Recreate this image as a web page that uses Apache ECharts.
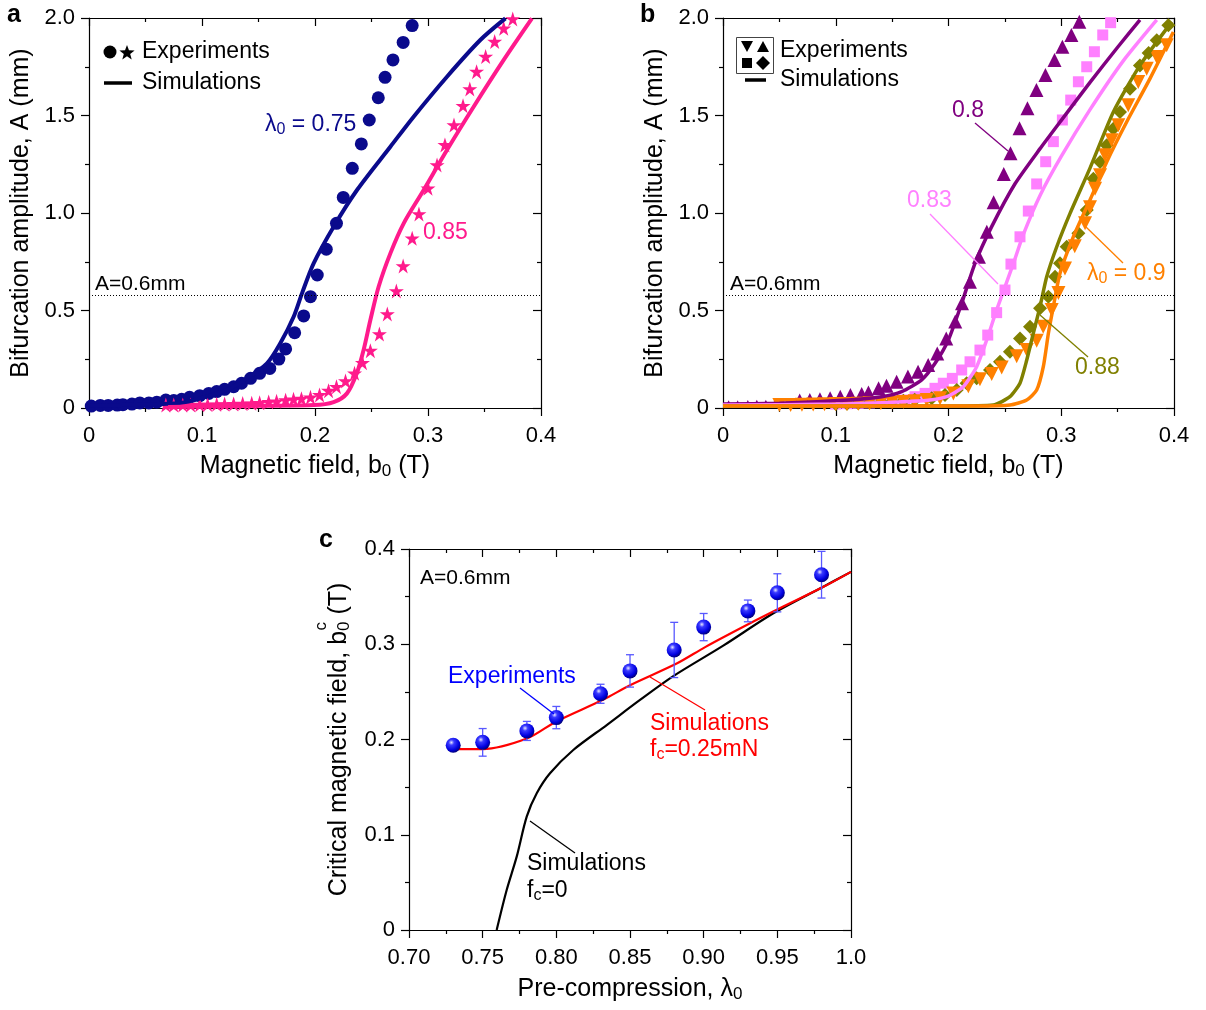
<!DOCTYPE html>
<html><head><meta charset="utf-8">
<script src="https://cdn.jsdelivr.net/npm/echarts@6/dist/echarts.min.js"></script>
<style>html,body{margin:0;padding:0;background:#fff}#c{width:1206px;height:1010px}</style>
</head><body><div id="c"></div>
<script>
// ---------- Panel a data: [b0 (T), A (mm)] ----------
const expA075 = [[0.002,0.010],[0.010,0.013],[0.017,0.013],[0.025,0.015],[0.030,0.017],[0.038,0.020],[0.045,0.026],[0.053,0.026],[0.060,0.030],[0.068,0.041],[0.075,0.038],[0.082,0.045],[0.089,0.055],[0.098,0.063],[0.106,0.075],[0.113,0.084],[0.120,0.096],[0.128,0.109],[0.135,0.127],[0.143,0.152],[0.151,0.178],[0.160,0.203],[0.168,0.251],[0.174,0.303],[0.182,0.386],[0.190,0.472],[0.196,0.571],[0.202,0.682],[0.210,0.814],[0.219,0.947],[0.225,1.080],[0.233,1.229],[0.241,1.354],[0.248,1.477],[0.256,1.591],[0.262,1.696],[0.269,1.785],[0.278,1.875],[0.286,1.961]];
const simA075 = [[0,0.010],[0.04,0.018],[0.08,0.026],[0.1212,0.092],[0.1395,0.152],[0.1575,0.229],[0.1693,0.332],[0.1811,0.468],[0.1885,0.588],[0.1988,0.742],[0.2165,0.930],[0.2372,1.118],[0.2667,1.340],[0.2873,1.494],[0.3168,1.699],[0.3463,1.887],[0.3685,1.998]];
const expA085 = [[0.068,0.015],[0.075,0.015],[0.083,0.016],[0.090,0.016],[0.098,0.017],[0.105,0.018],[0.113,0.019],[0.120,0.020],[0.128,0.021],[0.136,0.023],[0.144,0.024],[0.151,0.027],[0.159,0.031],[0.166,0.034],[0.174,0.040],[0.181,0.045],[0.188,0.048],[0.196,0.055],[0.204,0.067],[0.212,0.089],[0.219,0.109],[0.227,0.138],[0.235,0.178],[0.242,0.232],[0.249,0.294],[0.257,0.379],[0.264,0.482],[0.272,0.600],[0.278,0.728],[0.286,0.870],[0.292,0.995],[0.300,1.127],[0.308,1.246],[0.315,1.349],[0.323,1.451],[0.331,1.550],[0.337,1.636],[0.343,1.725],[0.351,1.802],[0.359,1.879],[0.367,1.947],[0.375,1.995]];
const simA085 = [[0.07,0.005],[0.12,0.010],[0.1988,0.015],[0.2165,0.030],[0.2283,0.075],[0.237,0.178],[0.243,0.297],[0.249,0.451],[0.2563,0.622],[0.2667,0.793],[0.2785,0.947],[0.2962,1.118],[0.3168,1.323],[0.3404,1.545],[0.367,1.785],[0.392,1.998]];
const thresholdA = [0.585];

// ---------- Panel b data ----------
const expB080 = [[0.005,0.022],[0.013,0.022],[0.022,0.023],[0.030,0.024],[0.038,0.025],[0.046,0.026],[0.053,0.028],[0.060,0.032],[0.068,0.038],[0.077,0.041],[0.086,0.045],[0.095,0.050],[0.104,0.058],[0.113,0.067],[0.123,0.072],[0.129,0.080],[0.138,0.101],[0.145,0.114],[0.154,0.135],[0.164,0.161],[0.173,0.186],[0.182,0.221],[0.190,0.280],[0.198,0.357],[0.206,0.443],[0.212,0.537],[0.219,0.648],[0.227,0.776],[0.234,0.904],[0.240,1.055],[0.249,1.200],[0.255,1.306],[0.263,1.434],[0.270,1.537],[0.278,1.631],[0.286,1.708],[0.294,1.785],[0.301,1.853],[0.309,1.913],[0.316,1.981]];
const simB080 = [[0,0.020],[0.05,0.025],[0.1112,0.041],[0.1408,0.058],[0.1585,0.084],[0.1762,0.144],[0.1881,0.229],[0.1999,0.349],[0.2117,0.537],[0.2235,0.742],[0.2383,0.930],[0.259,1.150],[0.2812,1.330],[0.300,1.475],[0.3255,1.670],[0.350,1.850],[0.3698,1.990]];
const expB083 = [[0.100,0.020],[0.110,0.022],[0.120,0.024],[0.130,0.026],[0.140,0.028],[0.150,0.032],[0.1614,0.041],[0.1703,0.058],[0.1792,0.075],[0.188,0.101],[0.1954,0.127],[0.2034,0.152],[0.2117,0.195],[0.2191,0.237],[0.2279,0.297],[0.2348,0.374],[0.2427,0.489],[0.2501,0.605],[0.2554,0.738],[0.2634,0.878],[0.2708,1.010],[0.2782,1.149],[0.2862,1.263],[0.293,1.366],[0.301,1.477],[0.3084,1.579],[0.3152,1.673],[0.3226,1.750],[0.3294,1.827],[0.3368,1.913],[0.3438,1.976]];
const simB083 = [[0,0.015],[0.10,0.020],[0.15,0.030],[0.182,0.040],[0.1984,0.058],[0.2131,0.109],[0.225,0.212],[0.2339,0.349],[0.2427,0.503],[0.2575,0.740],[0.2664,0.890],[0.2812,1.090],[0.300,1.290],[0.3255,1.530],[0.355,1.780],[0.3847,1.990]];
const expB088 = [[0.100,0.020],[0.110,0.022],[0.120,0.024],[0.130,0.027],[0.140,0.030],[0.150,0.033],[0.160,0.037],[0.170,0.042],[0.1851,0.050],[0.1969,0.067],[0.2073,0.092],[0.2161,0.127],[0.225,0.152],[0.2368,0.195],[0.2457,0.237],[0.2545,0.289],[0.2634,0.357],[0.2723,0.417],[0.2812,0.511],[0.2886,0.571],[0.2945,0.673],[0.2989,0.742],[0.3048,0.827],[0.3152,0.896],[0.3226,1.015],[0.3285,1.176],[0.3344,1.262],[0.3403,1.347],[0.3462,1.432],[0.3521,1.518],[0.361,1.637],[0.3698,1.757],[0.3775,1.820],[0.3847,1.886],[0.395,1.963]];
const simB088 = [[0,0.010],[0.20,0.010],[0.2397,0.015],[0.2545,0.058],[0.2634,0.127],[0.2694,0.246],[0.2752,0.383],[0.2812,0.520],[0.2871,0.673],[0.296,0.827],[0.3078,0.998],[0.3255,1.230],[0.3462,1.518],[0.3698,1.757],[0.398,1.980]];
const expB090 = [[0.050,0.015],[0.060,0.016],[0.070,0.017],[0.080,0.018],[0.090,0.019],[0.100,0.020],[0.110,0.021],[0.120,0.022],[0.130,0.024],[0.140,0.026],[0.150,0.028],[0.160,0.031],[0.170,0.035],[0.1807,0.041],[0.1925,0.050],[0.2043,0.075],[0.2176,0.112],[0.2279,0.148],[0.2383,0.175],[0.2472,0.208],[0.2605,0.265],[0.2694,0.297],[0.2782,0.345],[0.284,0.417],[0.2915,0.503],[0.2975,0.590],[0.3033,0.716],[0.312,0.830],[0.3211,0.947],[0.3255,1.030],[0.330,1.125],[0.3344,1.193],[0.3388,1.296],[0.3447,1.373],[0.3506,1.450],[0.3594,1.552],[0.3683,1.672],[0.3758,1.740],[0.3847,1.800],[0.3935,1.860]];
const simB090 = [[0,0.010],[0.225,0.010],[0.2545,0.015],[0.2694,0.041],[0.2782,0.092],[0.2841,0.212],[0.2886,0.383],[0.293,0.520],[0.2989,0.691],[0.3107,0.878],[0.3255,1.067],[0.3403,1.262],[0.358,1.467],[0.3787,1.689],[0.3994,1.928]];

// ---------- Panel c data: [lambda0, b0c (T)] ----------
const lambdaExp = [0.73,0.75,0.78,0.80,0.83,0.85,0.88,0.90,0.93,0.95,0.98];
const bcExp     = [0.194,0.197,0.209,0.223,0.248,0.272,0.294,0.318,0.335,0.354,0.373];
const bcErr     = [0.0055,0.0145,0.010,0.0117,0.010,0.017,0.029,0.0143,0.0114,0.020,0.0245];
const simC025 = [[0.73,0.190],[0.75,0.190],[0.78,0.201],[0.80,0.219],[0.832,0.242],[0.85,0.257],[0.882,0.280],[0.901,0.297],[0.9315,0.322],[0.952,0.338],[0.981,0.360],[1.0,0.376]];
const simC0 = [[0.7595,0],[0.7663,0.042],[0.7731,0.077],[0.7799,0.119],[0.7867,0.1435],[0.7957,0.1645],[0.8115,0.189],[0.8342,0.2152],[0.8568,0.2415],[0.8794,0.2665],[0.9133,0.2985],[0.9473,0.3325],[0.9812,0.3604],[1.0,0.376]];

// ---------- styling ----------
const FONT = "'Liberation Sans', Arial, Helvetica, sans-serif";
const C = {navy:'#0a0a8c', pink:'#ff1a8c', purple:'#800080', mag:'#ff80ff', olive:'#808000', orange:'#ff8000'};
const STAR = 'path://M50,2 L61,36 L97,36 L68,57 L79,92 L50,70 L21,92 L32,57 L3,36 L39,36 Z';
const fmt1 = v => (Math.abs(v) < 1e-9 ? '0' : v.toFixed(1));
const fmtC = v => (Math.abs(v) < 1e-9 ? '0' : (v > 0.999 ? '1.0' : v.toFixed(2)));
const TITLE = 25, SUB = 17, TICK = 22, NOTE = 23;
const subRich = {sub:{fontSize:SUB, fontFamily:FONT, color:'#000', padding:[10,0,0,0]}, n:{fontSize:TITLE, fontFamily:FONT, color:'#000'}};

function starPts(cx, cy, R) {
  const pts = [], r = R * 0.42;
  for (let i = 0; i < 10; i++) {
    const a = -Math.PI/2 + i * Math.PI/5, rr = i % 2 ? r : R;
    pts.push([cx + rr*Math.cos(a), cy + rr*Math.sin(a)]);
  }
  return pts;
}
const base = (g, min, max, iv) => ({gridIndex:g, type:'value', min, max, interval:iv,
  axisLine:{show:true,onZero:false,lineStyle:{color:'#000',width:1.2}},
  minorTick:{show:true,splitNumber:2,length:4,lineStyle:{color:'#000',width:1.2}},
  splitLine:{show:false}, minorSplitLine:{show:false}});

function xAx(g, min, max, iv, fmt, name, gap) {
  return [Object.assign(base(g,min,max,iv), {position:'bottom',
    axisTick:{show:true,inside:false,length:8,lineStyle:{color:'#000',width:1.2}},
    axisLabel:{color:'#000',fontSize:TICK,fontFamily:FONT,margin:17,formatter:fmt},
    name, nameLocation:'middle', nameGap:gap,
    nameTextStyle:{color:'#000',fontSize:TITLE,fontFamily:FONT,rich:subRich}}),
  Object.assign(base(g,min,max,iv), {position:'top',
    axisTick:{show:true,inside:true,length:8,lineStyle:{color:'#000',width:1.2}},
    axisLabel:{show:false}})];
}
function yAx(g, min, max, iv, fmt, name, gap) {
  return [Object.assign(base(g,min,max,iv), {position:'left',
    axisTick:{show:true,inside:false,length:8,lineStyle:{color:'#000',width:1.2}},
    axisLabel:{color:'#000',fontSize:TICK,fontFamily:FONT,margin:14,formatter:fmt},
    name, nameLocation:'middle', nameGap:gap,
    nameTextStyle:{color:'#000',fontSize:TITLE,fontFamily:FONT,rich:subRich}}),
  Object.assign(base(g,min,max,iv), {position:'right',
    axisTick:{show:true,inside:true,length:8,lineStyle:{color:'#000',width:1.2}},
    axisLabel:{show:false}})];
}

function sim(g, data, color, w, extra) {
  return Object.assign({type:'line', xAxisIndex:2*g, yAxisIndex:2*g, data, smooth:0.3, showSymbol:false,
    symbol:'none', lineStyle:{color, width:w}, z:3, silent:true}, extra || {});
}
function exp(g, data, color, symbol, size, extra) {
  return Object.assign({type:'scatter', xAxisIndex:2*g, yAxisIndex:2*g, data, symbol, symbolSize:size,
    itemStyle:{color, opacity:1}, z:2, silent:true}, extra || {});
}
const dotted = {silent:true, symbol:'none', label:{show:false}, lineStyle:{type:[1,2], color:'#000', width:1},
  data:[{yAxis:thresholdA[0]}]};

const series = [
  exp(0, expA075, C.navy, 'circle', 13),
  exp(0, expA085, C.pink, STAR, 15),
  sim(0, simA075, C.navy, 4, {markLine:dotted}),
  sim(0, simA085, C.pink, 4),
  exp(1, expB080, C.purple, 'triangle', v => (v[0] < 0.062 ? 7 : 14)),
  exp(1, expB083, C.mag, 'rect', 11),
  exp(1, expB088, C.olive, 'diamond', 14),
  exp(1, expB090, C.orange, 'triangle', 14, {symbolRotate:180}),
  sim(1, simB080, C.purple, 3.5, {markLine:dotted, smooth:0.2}),
  sim(1, simB083, C.mag, 3.5, {smooth:0.2}),
  sim(1, simB088, C.olive, 3.5, {smooth:0.2}),
  sim(1, simB090, C.orange, 3.5, {smooth:0.2}),
  sim(2, simC0, '#000', 2.2, {smooth:0.3}),
  sim(2, simC025, '#ff0000', 2.2, {smooth:0.3}),
  {type:'custom', xAxisIndex:4, yAxisIndex:4, z:4, silent:true,
   data: lambdaExp.map((l,i) => [l, bcExp[i], bcErr[i]]),
   renderItem(params, api) {
     const x = api.value(0), y = api.value(1), e = api.value(2);
     const t = api.coord([x, y+e]), b = api.coord([x, y-e]);
     const hw = 4, st = {stroke:'#5858ff', lineWidth:1.3};
     return {type:'group', children:[
       {type:'line', shape:{x1:t[0],y1:t[1],x2:b[0],y2:b[1]}, style:st},
       {type:'line', shape:{x1:t[0]-hw,y1:t[1],x2:t[0]+hw,y2:t[1]}, style:st},
       {type:'line', shape:{x1:b[0]-hw,y1:b[1],x2:b[0]+hw,y2:b[1]}, style:st}
     ]};
   }},
  {type:'scatter', xAxisIndex:4, yAxisIndex:4, z:5, silent:true, symbol:'circle', symbolSize:15,
   data: lambdaExp.map((l,i) => [l, bcExp[i]]),
   itemStyle:{opacity:1, color:{type:'radial', x:0.38, y:0.32, r:0.72, colorStops:[
     {offset:0,color:'#e8e8ff'},{offset:0.25,color:'#3a3aff'},{offset:0.7,color:'#0000e0'},{offset:1,color:'#00006a'}]}}}
];

// ---------- annotations (pixel layout) ----------
function txt(x, y, text, color, size, extra) {
  return Object.assign({type:'text', x, y, silent:true, z:100, style:{text, fill:color, fontSize:size||NOTE,
    fontFamily:FONT, verticalAlign:'middle', align:'left',
    rich:{n:{fontSize:size||NOTE, fontFamily:FONT, fill:color}, sub:{fontSize:16, fontFamily:FONT, fill:color, padding:[10,0,0,0]}}}}, extra||{});
}
function ln(x1,y1,x2,y2,color,w) {
  return {type:'line', silent:true, z:100, shape:{x1,y1,x2,y2}, style:{stroke:color, lineWidth:w||1.3}};
}
function bold(x, y, t) {
  return {type:'text', x, y, silent:true, z:100, style:{text:t, fill:'#000', fontSize:25, fontWeight:'bold', fontFamily:FONT, verticalAlign:'middle'}};
}
// superscript "c" of the panel c y-axis title, placed above the subscript 0
const meas = document.createElement('canvas').getContext('2d');
function tw(s, size) { meas.font = size + 'px ' + FONT; return meas.measureText(s).width; }
const cNameGap = 56, cGridTop = 549, cGridH = 381, cGridLeft = 409;
const wMain = tw('Critical magnetic field, b', TITLE), w0 = tw('0', SUB), wT = tw(' (T)', TITLE);
const wAll = wMain + w0 + wT;
const topEnd = cGridTop + cGridH/2 - wAll/2;
const supY = topEnd + wT + w0/2;
const supX = cGridLeft - cNameGap - 32;

const graphic = [
  bold(7, 15, 'a'), bold(640, 15, 'b'), bold(319, 540, 'c'),
  // legend a
  {type:'circle', silent:true, z:100, shape:{cx:110, cy:52, r:6.5}, style:{fill:'#000'}},
  {type:'polygon', silent:true, z:100, shape:{points:starPts(127, 53, 8)}, style:{fill:'#000'}},
  txt(142, 52, 'Experiments', '#000'),
  ln(104, 83, 132, 83, '#000', 3.5),
  txt(142, 83, 'Simulations', '#000'),
  txt(265, 125, '{n|λ}{sub|0}{n| = 0.75}', C.navy),
  txt(423, 233, '0.85', C.pink),
  txt(95, 284, 'A=0.6mm', '#000', 21),
  // legend b
  {type:'rect', silent:true, z:100, shape:{x:736.5, y:37.5, width:37, height:36}, style:{fill:'none', stroke:'#444', lineWidth:1}},
  {type:'polygon', silent:true, z:100, shape:{points:[[741,41],[753,41],[747,52]]}, style:{fill:'#000'}},
  {type:'polygon', silent:true, z:100, shape:{points:[[757,52],[769,52],[763,41]]}, style:{fill:'#000'}},
  {type:'rect', silent:true, z:100, shape:{x:742, y:58, width:10, height:10}, style:{fill:'#000'}},
  {type:'polygon', silent:true, z:100, shape:{points:[[763,56],[770,63],[763,70],[756,63]]}, style:{fill:'#000'}},
  txt(780, 51, 'Experiments', '#000'),
  ln(745, 80, 766, 80, '#000', 3.5),
  txt(780, 80, 'Simulations', '#000'),
  txt(730, 284, 'A=0.6mm', '#000', 21),
  txt(952, 111, '0.8', C.purple), ln(975, 123, 1008, 151, C.purple),
  txt(907, 201, '0.83', C.mag), ln(930, 214, 998, 284, C.mag),
  txt(1087, 274, '{n|λ}{sub|0}{n| = 0.9}', C.orange), ln(1085, 226, 1123, 263, C.orange),
  txt(1075, 368, '0.88', C.olive), ln(1040, 315, 1088, 357, C.olive),
  // panel c
  txt(420, 578, 'A=0.6mm', '#000', 21),
  txt(448, 677, 'Experiments', '#0000ff'), ln(520, 688, 554, 714, '#0000ff'),
  txt(650, 724, 'Simulations', '#ff0000'),
  txt(650, 750, '{n|f}{sub|c}{n|=0.25mN}', '#ff0000'), ln(705, 710, 650, 677, '#ff0000'),
  txt(527, 864, 'Simulations', '#000'),
  txt(527, 891, '{n|f}{sub|c}{n|=0}', '#000'), ln(575, 853, 530, 821, '#000'),
  {type:'text', x:supX, y:supY, rotation:Math.PI/2, silent:true, z:100,
   style:{text:'c', fill:'#000', fontSize:SUB, fontFamily:FONT, align:'center', verticalAlign:'middle'}}
];

const chart = echarts.init(document.getElementById('c'), null, {renderer:'canvas'});
chart.setOption({
  animation:false, backgroundColor:'#fff',
  textStyle:{fontFamily:FONT},
  grid:[
    {left:89, top:18, width:452, height:390},
    {left:723, top:18, width:451, height:390},
    {left:cGridLeft, top:cGridTop, width:442, height:cGridH}
  ],
  xAxis:[].concat(
    xAx(0, 0, 0.4, 0.1, fmt1, '{n|Magnetic field, b}{sub|0}{n| (T)}', 45),
    xAx(1, 0, 0.4, 0.1, fmt1, '{n|Magnetic field, b}{sub|0}{n| (T)}', 45),
    xAx(2, 0.70, 1.0, 0.05, fmtC, '{n|Pre-compression, λ}{sub|0}', 46)
  ),
  yAxis:[].concat(
    yAx(0, 0, 2.0, 0.5, fmt1, 'Bifurcation amplitude, A (mm)', 55),
    yAx(1, 0, 2.0, 0.5, fmt1, 'Bifurcation amplitude, A (mm)', 55),
    yAx(2, 0, 0.4, 0.1, fmt1, '{n|Critical magnetic field, b}{sub|0}{n| (T)}', cNameGap)
  ),
  series, graphic
});
</script></body></html>
